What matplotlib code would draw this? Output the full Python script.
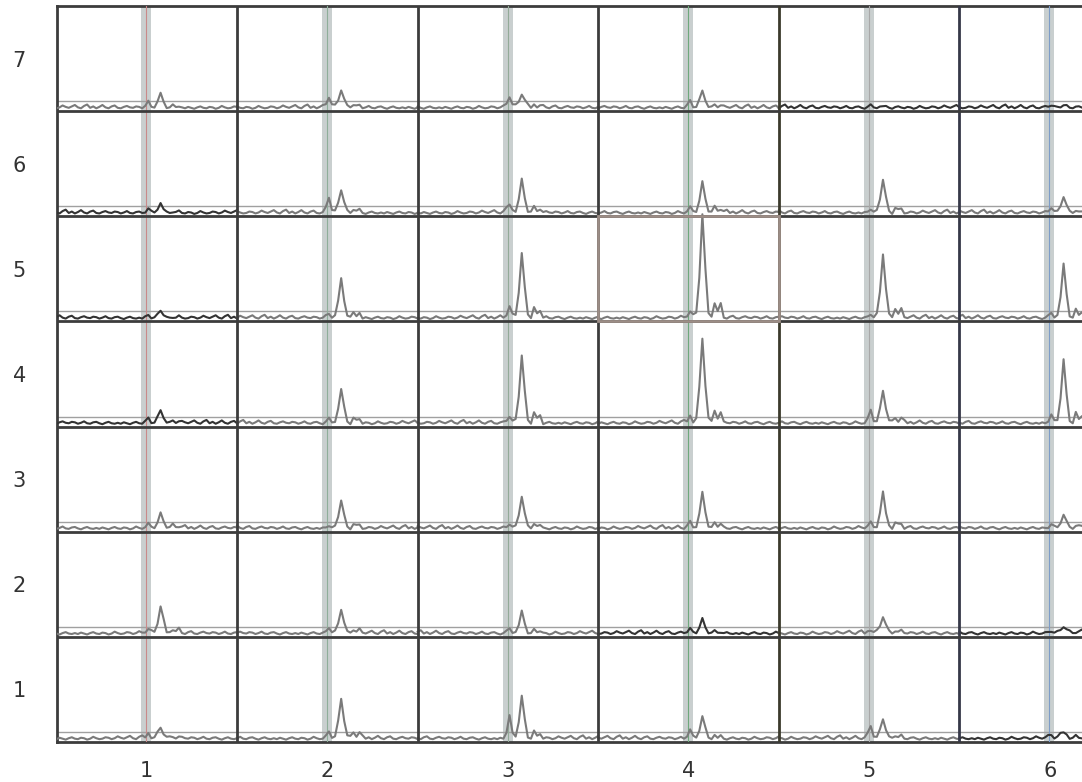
import numpy as np
import matplotlib.pyplot as plt
from matplotlib.patches import Rectangle

# grid of small spectra, one per (column, row) cell
cols = [1, 2, 3, 4, 5, 6]
rows = [1, 2, 3, 4, 5, 6, 7]
x_labels = ['1', '2', '3', '4', '5', '6']
y_labels = ['1', '2', '3', '4', '5', '6', '7']

# main peak height (fraction of a cell), rows listed from 1 (bottom) to 7 (top)
peak_height = [
    [0.10, 0.37, 0.40, 0.21, 0.18, 0.06],   # row 1
    [0.24, 0.23, 0.21, 0.13, 0.16, 0.06],   # row 2
    [0.13, 0.27, 0.31, 0.33, 0.32, 0.13],   # row 3
    [0.12, 0.33, 0.64, 0.80, 0.30, 0.60],   # row 4
    [0.07, 0.38, 0.61, 0.97, 0.61, 0.51],   # row 5
    [0.09, 0.22, 0.30, 0.28, 0.32, 0.16],   # row 6
    [0.13, 0.17, 0.13, 0.16, 0.02, 0.02],   # row 7
]
# small peak sitting on the marker band
pre_height = [
    [0.04, 0.06, 0.22, 0.08, 0.12, 0.03],
    [0.03, 0.06, 0.05, 0.04, 0.03, 0.02],
    [0.04, 0.03, 0.04, 0.05, 0.04, 0.04],
    [0.05, 0.04, 0.06, 0.06, 0.12, 0.08],
    [0.03, 0.04, 0.10, 0.05, 0.04, 0.05],
    [0.04, 0.14, 0.08, 0.05, 0.04, 0.05],
    [0.05, 0.10, 0.10, 0.07, 0.02, 0.02],
]
# cells without a real signal are drawn dark
dark = [
    [0, 0, 0, 0, 0, 1],
    [0, 0, 0, 1, 0, 1],
    [0, 0, 0, 0, 0, 0],
    [1, 0, 0, 0, 0, 0],
    [1, 0, 0, 0, 0, 0],
    [1, 0, 0, 0, 0, 0],
    [0, 0, 0, 0, 1, 1],
]
band_line_colors = ['#c98a8a', '#8fae9a', '#93aa98', '#6fa87c', '#a8a8a8', '#7d9cc6']

# baseline wiggle read off a typical cell (60 samples across one cell)
wiggle = [0.2, 0.5, 0.3, 0.1, 0.4, 0.6, 0.3, 0.2, 0.5, 0.4,
          0.1, 0.3, 0.7, 0.4, 0.2, 0.3, 0.6, 0.5, 0.2, 0.4,
          0.8, 0.5, 0.3, 0.6, 0.9, 0.4, 0.2, 0.7, 1.0, 0.3,
          0.6, 0.2, 0.5, 0.9, 0.4, 0.2, 0.6, 0.8, 0.3, 0.2,
          0.5, 0.7, 0.4, 0.3, 0.6, 0.5, 0.2, 0.4, 0.7, 0.3,
          0.2, 0.5, 0.6, 0.3, 0.1, 0.4, 0.6, 0.3, 0.2, 0.4]
peak_shape = [0.05, 0.4, 1.0, 0.45, 0.05, 0.0, 0.15, 0.06, 0.12]   # starts at sample 32
pre_shape = [0.3, 1.0, 0.2]                                        # starts at sample 29

fig = plt.figure(figsize=(10.82, 7.82), dpi=100)
ax = fig.add_axes([56.5 / 1082, 40 / 782, 6 * 180.6 / 1082, 736 / 782])
ax.set_xlim(0.5, 6.5)
ax.set_ylim(0.5, 7.5)

n = len(wiggle)
for r, row in enumerate(rows):
    ax.axhline(row - 0.5 + 0.095, color='#a0a0a0', lw=1, zorder=2)
    for c, col in enumerate(cols):
        xs = np.linspace(col - 0.5, col + 0.5, n)
        w = np.roll(np.array(wiggle), (r * 7 + c * 13) % n)
        y = 0.045 * w
        p = np.zeros(n)
        p[32:32 + len(peak_shape)] += peak_height[r][c] * np.array(peak_shape)
        p[29:29 + len(pre_shape)] += pre_height[r][c] * np.array(pre_shape)
        y = y + p + row - 0.5 + 0.018
        color = '#333333' if dark[r][c] else '#7a7a7a'
        ax.plot(xs, y, color=color, lw=1.5, zorder=4)

for c, col in enumerate(cols):
    ax.axvspan(col - 0.03, col + 0.025, color='#c9cfcf', zorder=1, lw=0)
    ax.axvline(col - 0.002, color=band_line_colors[c], lw=0.8, zorder=3)

grid_colors = ['#3c3c3c', '#3c3c3c', '#3c3c3c', '#3b3a2c', '#363848']
for k, gx in enumerate([1.5, 2.5, 3.5, 4.5, 5.5]):
    ax.axvline(gx, color=grid_colors[k], lw=2, zorder=5)
for gy in [1.5, 2.5, 3.5, 4.5, 5.5, 6.5]:
    ax.axhline(gy, color='#3c3c3c', lw=2, zorder=5)

# one cell has a lighter frame
ax.add_patch(Rectangle((3.5, 4.5), 1, 1, fill=False, edgecolor='#9c8d86', lw=2, zorder=6))

for s in ax.spines.values():
    s.set_color('#3c3c3c')
    s.set_linewidth(2)

ax.set_xticks(cols)
ax.set_xticklabels(x_labels)
ax.set_yticks(rows)
ax.set_yticklabels(y_labels)
ax.tick_params(length=0, labelsize=15, colors='#333333')
ax.tick_params(axis='x', pad=14)
ax.tick_params(axis='y', pad=22)

fig.savefig('out.png', dpi=100)
